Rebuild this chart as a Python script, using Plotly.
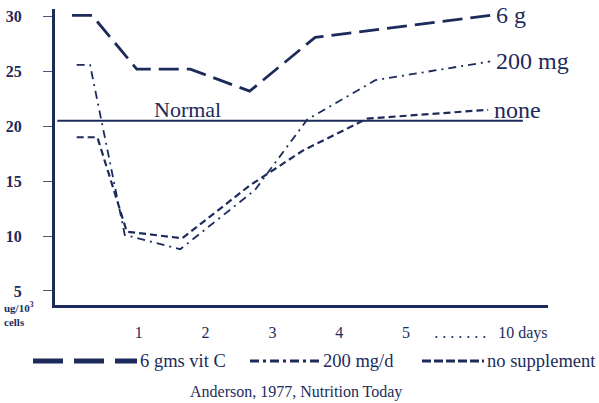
import plotly.graph_objects as go

# ---- data ----
days_6g = [0.0, 0.30, 0.97, 1.77, 2.66, 3.64, 6.26]
vitc_6g = [30.1, 30.1, 25.2, 25.2, 23.2, 28.1, 30.1]

days_200 = [0.07, 0.27, 0.79, 1.62, 2.74, 3.52, 4.54, 6.26]
vitc_200 = [25.6, 25.6, 10.1, 8.8, 14.2, 20.6, 24.2, 25.9]

days_none = [0.07, 0.38, 0.82, 1.65, 2.66, 3.46, 4.42, 6.23]
vitc_none = [19.0, 19.0, 10.4, 9.8, 14.6, 17.8, 20.7, 21.5]

normal_days = [-0.22, 6.75]
normal_level = 20.5

x_tickvals = [1, 2, 3, 4, 5, 6.27]
x_ticktext = ["1", "2", "3", "4", "5", ". . . . . . .\u00a0\u00a0\u00a010 days"]
y_tickvals = [5, 10, 15, 20, 25, 30]

series_labels = ["6 g", "200 mg", "none"]
legend_labels = ["6 gms vit C", "200 mg/d", "no supplement"]
citation = "Anderson, 1977, Nutrition Today"

# ---- style ----
NAVY = "#1d2b5b"
SERIF = '"Liberation Serif", "Times New Roman", serif'
W, H = 599, 403
ML, MR, MT, MB = 55, 51, 9, 98
PW, PH = W - ML - MR, H - MT - MB


def px_x(px):
    return (px - ML) / PW


def px_y(py):
    return (H - MB - py) / PH


fig = go.Figure()

fig.add_trace(go.Scatter(x=normal_days, y=[normal_level] * 2, mode="lines",
                         line=dict(color=NAVY, width=2), showlegend=False,
                         hoverinfo="skip"))
fig.add_trace(go.Scatter(x=days_6g, y=vitc_6g, mode="lines", name=legend_labels[0],
                         line=dict(color=NAVY, width=2.8, dash="20px,8px"),
                         showlegend=False))
fig.add_trace(go.Scatter(x=days_200, y=vitc_200, mode="lines", name=legend_labels[1],
                         line=dict(color=NAVY, width=1.8, dash="8px,5px,2px,5px"),
                         showlegend=False))
fig.add_trace(go.Scatter(x=days_none, y=vitc_none, mode="lines", name=legend_labels[2],
                         line=dict(color=NAVY, width=2.2, dash="7px,4px"),
                         showlegend=False))

# end-of-line labels
for xs, ys, lab in [(days_6g, vitc_6g, series_labels[0]),
                    (days_200, vitc_200, series_labels[1]),
                    (days_none, vitc_none, series_labels[2])]:
    fig.add_annotation(x=xs[-1], y=ys[-1], text=lab, showarrow=False,
                       xanchor="left", yanchor="middle", xshift=4,
                       font=dict(family=SERIF, size=24, color=NAVY))

fig.add_annotation(x=1.73, y=normal_level, text="Normal", showarrow=False,
                   xanchor="center", yanchor="middle", yshift=11,
                   font=dict(family=SERIF, size=22, color=NAVY))

# y unit label
fig.add_annotation(xref="paper", yref="paper", x=px_x(2), y=px_y(314),
                   text="<b>ug/10<sup>3</sup><br>cells</b>", showarrow=False,
                   xanchor="left", yanchor="middle", align="left",
                   font=dict(family=SERIF, size=11, color=NAVY))

# manual legend
legend_y = px_y(361)
legend_items = [
    (33, 137, dict(color=NAVY, width=5, dash="30px,11px"), legend_labels[0]),
    (250, 320, dict(color=NAVY, width=3, dash="9px,4px,3px,4px"), legend_labels[1]),
    (422, 484, dict(color=NAVY, width=3, dash="9px,3px"), legend_labels[2]),
]
for x0, x1, ln, lab in legend_items:
    fig.add_shape(type="line", xref="paper", yref="paper",
                  x0=px_x(x0), x1=px_x(x1), y0=legend_y, y1=legend_y, line=ln)
    fig.add_annotation(xref="paper", yref="paper", x=px_x(x1 + 1), y=legend_y,
                       text=lab, showarrow=False, xanchor="left", yanchor="middle",
                       font=dict(family=SERIF, size=18.5, color=NAVY))

fig.add_annotation(xref="paper", yref="paper", x=px_x(296), y=px_y(391.5),
                   text=citation, showarrow=False, xanchor="center", yanchor="middle",
                   font=dict(family=SERIF, size=16, color=NAVY))

x0r = (ML - 72) / 66.8
fig.update_layout(
    width=W, height=H,
    margin=dict(l=ML, r=MR, t=MT, b=MB, pad=0, autoexpand=False),
    paper_bgcolor="white", plot_bgcolor="white",
    showlegend=False,
    xaxis=dict(range=[x0r, x0r + PW / 66.8], showgrid=False, zeroline=False,
               automargin=False,
               showline=True, linecolor=NAVY, linewidth=3,
               tickvals=x_tickvals, ticktext=x_ticktext, ticks="",
               ticklabelstandoff=11,
               tickfont=dict(family=SERIF, size=16, color=NAVY)),
    yaxis=dict(range=[30.68 - PH / 10.98, 30.68], showgrid=False, zeroline=False,
               automargin=False,
               showline=True, linecolor=NAVY, linewidth=3,
               tickvals=y_tickvals, ticks="outside", ticklen=9, tickwidth=1,
               tickcolor="#4a5580", ticklabelstandoff=18,
               tickfont=dict(family=SERIF, size=16, color=NAVY, weight="bold")),
)

fig.write_html("out.html", config={"displayModeBar": False},
               post_script="document.body.style.margin='0';")
